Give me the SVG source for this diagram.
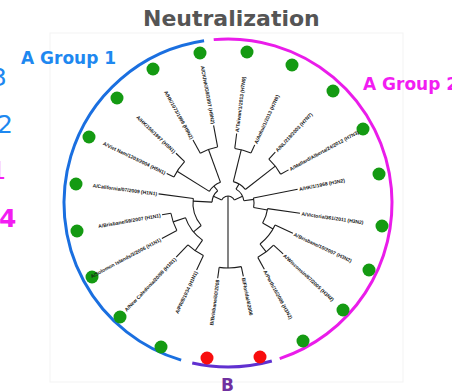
<svg xmlns="http://www.w3.org/2000/svg" width="452" height="392" viewBox="0 0 452 392">
<style>
.title{font-family:"DejaVu Sans",Verdana,sans-serif;font-weight:bold;font-size:22px;fill:#555555}
.grp{font-family:"DejaVu Sans",Verdana,sans-serif;font-weight:bold;font-size:17px}
.num{font-family:"DejaVu Sans",Verdana,sans-serif;font-size:25px}
.blue{fill:#1e88f0}
.mag{fill:#f21df2}
.tree line,.tree circle{stroke:#1c1c1c;stroke-width:1.1;fill:none}
.lb{font-family:"Liberation Sans",Arial,sans-serif;font-size:5px;font-weight:bold;fill:#161616;dominant-baseline:central}
.e{text-anchor:end}
.gd{fill:#149a12}
.rd{fill:#f80d0d}
.arc{fill:none;stroke-width:3}
</style>

<rect x="50" y="33" width="353" height="349" fill="none" stroke="#f3f3f3" stroke-width="1"/>

<text class="title" x="143" y="26">Neutralization</text>

<!-- figure numbers running off the left edge -->
<text class="num blue" x="-9" y="86">3</text>
<text class="num blue" x="-3" y="133">2</text>
<text class="num mag" x="-9.5" y="179" font-family="Liberation Sans">1</text>
<text class="num mag" x="-1" y="227" font-weight="bold">4</text>

<!-- group arcs -->
<g id="group-arcs" transform="translate(228,203)">
  <circle class="arc" r="164" stroke="#1a6fe0" pathLength="360" stroke-dasharray="155 999" transform="rotate(106.6)"/>
  <circle class="arc" r="164" stroke="#ea1cea" pathLength="360" stroke-dasharray="166.6 999" transform="rotate(265)"/>
  <circle class="arc" r="164" stroke="#6030d0" pathLength="360" stroke-dasharray="28.1 999" transform="rotate(74.5)"/>
</g>

<text id="label-group1" class="grp blue" x="21" y="64">A Group 1</text>
<text id="label-group2" class="grp mag" x="363" y="90">A Group 2</text>
<text id="label-b" class="grp" x="221" y="391" fill="#7030a0">B</text>

<!-- tree branches: radial lines and arcs around the root -->
<g id="connectors" class="tree" transform="translate(228,203)">
  <!-- root -->
  <line x1="0" x2="65" transform="rotate(90)"/>
  <line x1="0" x2="7" transform="rotate(270)"/>
  <!-- B clade -->
  <circle r="65" pathLength="360" stroke-dasharray="19.6 999" transform="rotate(78.2)"/>
  <line x1="65" x2="76" transform="rotate(97.8)"/>
  <line x1="65" x2="75" transform="rotate(78.2)"/>
  <!-- A clade -->
  <circle r="7" pathLength="360" stroke-dasharray="130 999" transform="rotate(205)"/>
  <!-- group 1 -->
  <line x1="7" x2="16" transform="rotate(205)"/>
  <circle r="16" pathLength="360" stroke-dasharray="47 999" transform="rotate(183)"/>
  <line x1="16" x2="35" transform="rotate(183)"/>
  <circle r="35" pathLength="360" stroke-dasharray="47.5 999" transform="rotate(140)"/>
  <line x1="35" x2="70" transform="rotate(187.5)"/>
  <line x1="35" x2="45" transform="rotate(140)"/>
  <circle r="45" pathLength="360" stroke-dasharray="36.5 999" transform="rotate(124.5)"/>
  <line x1="45" x2="58" transform="rotate(161)"/>
  <circle r="58" pathLength="360" stroke-dasharray="18.1 999" transform="rotate(151.8)"/>
  <line x1="58" x2="67" transform="rotate(169.9)"/>
  <line x1="58" x2="75" transform="rotate(151.8)"/>
  <line x1="45" x2="58" transform="rotate(124.5)"/>
  <circle r="58" pathLength="360" stroke-dasharray="18.6 999" transform="rotate(115.1)"/>
  <line x1="58" x2="74" transform="rotate(115.1)"/>
  <line x1="58" x2="75" transform="rotate(133.7)"/>
  <line x1="16" x2="22" transform="rotate(230)"/>
  <circle r="22" pathLength="360" stroke-dasharray="38 999" transform="rotate(212)"/>
  <line x1="22" x2="60" transform="rotate(212)"/>
  <circle r="60" pathLength="360" stroke-dasharray="18 999" transform="rotate(205.7)"/>
  <line x1="60" x2="68" transform="rotate(205.7)"/>
  <line x1="60" x2="72" transform="rotate(223.7)"/>
  <line x1="22" x2="57" transform="rotate(250)"/>
  <circle r="57" pathLength="360" stroke-dasharray="18.6 999" transform="rotate(240.9)"/>
  <line x1="57" x2="72" transform="rotate(240.9)"/>
  <line x1="57" x2="79" transform="rotate(259.5)"/>
  <!-- group 2 -->
  <line x1="7" x2="16" transform="rotate(335)"/>
  <circle r="16" pathLength="360" stroke-dasharray="52 999" transform="rotate(300)"/>
  <line x1="16" x2="22" transform="rotate(300)"/>
  <circle r="22" pathLength="360" stroke-dasharray="38 999" transform="rotate(284)"/>
  <line x1="22" x2="55" transform="rotate(284)"/>
  <circle r="55" pathLength="360" stroke-dasharray="17.6 999" transform="rotate(277.1)"/>
  <line x1="55" x2="70" transform="rotate(277.1)"/>
  <line x1="55" x2="64" transform="rotate(294.7)"/>
  <line x1="22" x2="60" transform="rotate(322)"/>
  <circle r="60" pathLength="360" stroke-dasharray="18.4 999" transform="rotate(312.9)"/>
  <line x1="60" x2="69.5" transform="rotate(312.9)"/>
  <line x1="60" x2="69" transform="rotate(331.3)"/>
  <line x1="16" x2="26" transform="rotate(352)"/>
  <circle r="26" pathLength="360" stroke-dasharray="21.2 999" transform="rotate(348.8)"/>
  <line x1="26" x2="71" transform="rotate(348.8)"/>
  <line x1="26" x2="40" transform="rotate(10)"/>
  <circle r="40" pathLength="360" stroke-dasharray="21.9 999" transform="rotate(8.1)"/>
  <line x1="40" x2="72.7" transform="rotate(8.1)"/>
  <line x1="40" x2="52" transform="rotate(30)"/>
  <circle r="52" pathLength="360" stroke-dasharray="26.9 999" transform="rotate(25.1)"/>
  <line x1="52" x2="71.6" transform="rotate(25.1)"/>
  <line x1="52" x2="62" transform="rotate(52)"/>
  <circle r="62" pathLength="360" stroke-dasharray="18.6 999" transform="rotate(42.7)"/>
  <line x1="62" x2="75" transform="rotate(42.7)"/>
  <line x1="62" x2="75.6" transform="rotate(61.3)"/>
</g>

<!-- leaves: strain label plus neutralization marker -->
<g id="leaf-pr8"><circle class="gd" cx="161" cy="347" r="6.5"/><text class="lb e" transform="translate(228,203) rotate(115.1) translate(75.5,0) rotate(180)">A/PR/8/1934 (H1N1)</text></g>
<g id="leaf-newcaledonia"><circle class="gd" cx="120" cy="317" r="6.5"/><text class="lb e" transform="translate(228,203) rotate(133.7) translate(76.5,0) rotate(180)">A/New Caledonia/20/99 (H1N1)</text></g>
<g id="leaf-solomon"><circle class="gd" cx="92" cy="277" r="6.5"/><text class="lb e" transform="translate(228,203) rotate(151.8) translate(76.5,0) rotate(180)">A/Solomon Islands/3/2006 (H1N1)</text></g>
<g id="leaf-brisbane59"><circle class="gd" cx="77" cy="231" r="6.5"/><text class="lb e" transform="translate(228,203) rotate(169.9) translate(68.5,0) rotate(180)">A/Brisbane/59/2007 (H1N1)</text></g>
<g id="leaf-california"><circle class="gd" cx="76" cy="184" r="6.5"/><text class="lb e" transform="translate(228,203) rotate(187.5) translate(71.5,0) rotate(180)">A/California/07/2009 (H1N1)</text></g>
<g id="leaf-vietnam"><circle class="gd" cx="89" cy="137" r="6.5"/><text class="lb e" transform="translate(228,203) rotate(205.7) translate(69.5,0) rotate(180)">A/Viet Nam/1203/2004 (H5N1)</text></g>
<g id="leaf-hk156"><circle class="gd" cx="117" cy="98" r="6.5"/><text class="lb e" transform="translate(228,203) rotate(223.7) translate(73.5,0) rotate(180)">A/HK/156/1997 (H5N1)</text></g>
<g id="leaf-hk1073"><circle class="gd" cx="153" cy="69" r="6.5"/><text class="lb e" transform="translate(228,203) rotate(240.9) translate(73.5,0) rotate(180)">A/HK/1073/1999 (H9N2)</text></g>
<g id="leaf-ckg9"><circle class="gd" cx="200" cy="53" r="6.5"/><text class="lb e" transform="translate(228,203) rotate(259.5) translate(80.5,0) rotate(180)">A/CK/HK/G9/1997 (H9N2)</text></g>

<g id="leaf-taiwan"><circle class="gd" cx="247" cy="52" r="6.5"/><text class="lb" transform="translate(228,203) rotate(-82.9) translate(71.5,0)">A/Taiwan/1/2013 (H7N9)</text></g>
<g id="leaf-anhui"><circle class="gd" cx="292" cy="65" r="6.5"/><text class="lb" transform="translate(228,203) rotate(-65.3) translate(65.5,0)">A/Anhui/1/2013 (H7N9)</text></g>
<g id="leaf-netherlands"><circle class="gd" cx="333" cy="91" r="6.5"/><text class="lb" transform="translate(228,203) rotate(-47.1) translate(71,0)">A/NL/219/2003 (H7N7)</text></g>
<g id="leaf-mallard"><circle class="gd" cx="363" cy="129" r="6.5"/><text class="lb" transform="translate(228,203) rotate(-28.7) translate(70.5,0)">A/Mallard/Alberta/24/2012 (H7N3)</text></g>
<g id="leaf-hk1968"><circle class="gd" cx="379" cy="174" r="6.5"/><text class="lb" transform="translate(228,203) rotate(-11.2) translate(72.5,0)">A/HK/1/1968 (H3N2)</text></g>
<g id="leaf-victoria"><circle class="gd" cx="382" cy="226" r="6.5"/><text class="lb" transform="translate(228,203) rotate(8.1) translate(74.2,0)">A/Victoria/361/2011 (H3N2)</text></g>
<g id="leaf-brisbane10"><circle class="gd" cx="369" cy="270" r="6.5"/><text class="lb" transform="translate(228,203) rotate(25.1) translate(73.1,0)">A/Brisbane/10/2007 (H3N2)</text></g>
<g id="leaf-wisconsin"><circle class="gd" cx="343" cy="310" r="6.5"/><text class="lb" transform="translate(228,203) rotate(42.7) translate(76.5,0)">A/Wisconsin/67/2005 (H3N2)</text></g>
<g id="leaf-perth"><circle class="gd" cx="303" cy="341" r="6.5"/><text class="lb" transform="translate(228,203) rotate(61.3) translate(77.1,0)">A/Perth/16/2009 (H3N2)</text></g>

<g id="leaf-b-brisbane"><circle class="rd" cx="207" cy="358" r="6.5"/><text class="lb e" transform="translate(228,203) rotate(97.8) translate(77.5,0) rotate(180)">B/Brisbane/60/2008</text></g>
<g id="leaf-b-florida"><circle class="rd" cx="260" cy="357" r="6.5"/><text class="lb" transform="translate(228,203) rotate(78.2) translate(76.5,0)">B/Florida/4/2006</text></g>
</svg>
